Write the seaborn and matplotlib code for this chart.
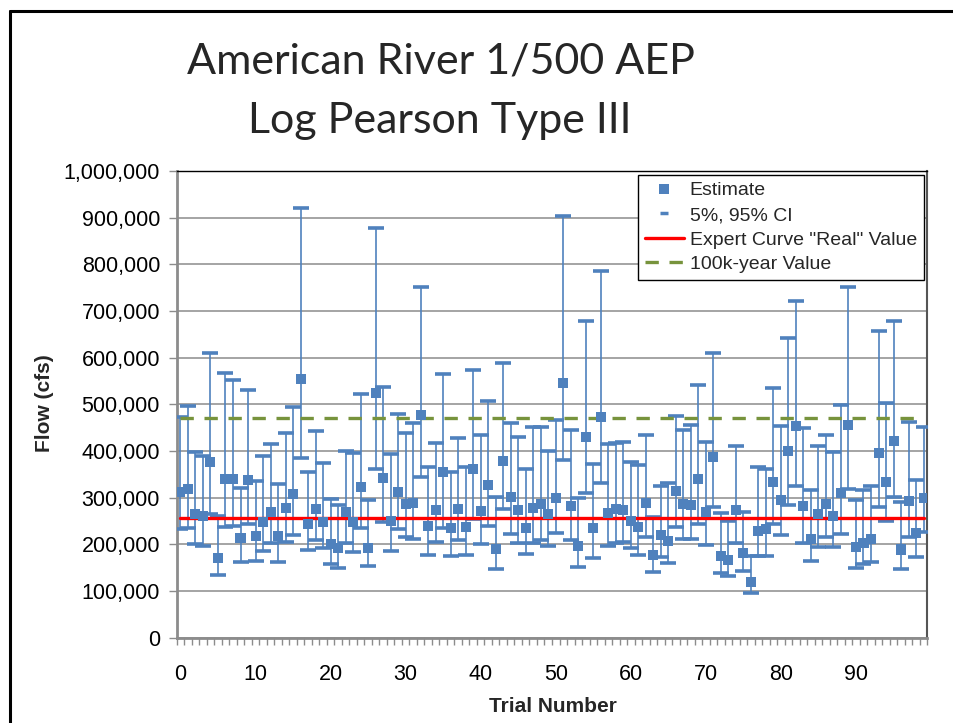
import numpy as np
import pandas as pd
import matplotlib
matplotlib.use("Agg")
import matplotlib.pyplot as plt
import seaborn as sns
from matplotlib.lines import Line2D
from matplotlib.ticker import FuncFormatter, MultipleLocator, FixedLocator

# ---------------- data (thousands of cfs) ----------------
trials = list(range(100))
estimate_k = [312, 319, 266, 260, 376, 170, 339, 339, 214, 337,
              217, 248, 269, 217, 277, 307, 554, 243, 276, 248,
              200, 192, 269, 247, 323, 192, 525, 342, 249, 312,
              287, 289, 478, 239, 273, 354, 234, 275, 237, 361,
              271, 328, 191, 378, 302, 273, 234, 278, 287, 265,
              299, 546, 283, 196, 429, 234, 472, 267, 275, 273,
              251, 237, 289, 177, 221, 207, 315, 287, 284, 339,
              269, 388, 176, 166, 273, 181, 119, 228, 233, 333,
              294, 401, 453, 282, 212, 265, 287, 260, 309, 455,
              194, 203, 212, 396, 334, 422, 189, 293, 224, 299]
upper95_k = [473, 496, 398, 390, 609, 260, 567, 552, 321, 531,
             335, 390, 415, 330, 439, 494, 921, 354, 442, 374,
             297, 284, 400, 396, 522, 294, 877, 537, 393, 480,
             438, 461, 752, 365, 417, 564, 354, 428, 366, 574,
             434, 508, 301, 589, 460, 431, 362, 452, 452, 399,
             466, 904, 444, 299, 679, 373, 785, 415, 418, 420,
             376, 371, 435, 259, 324, 331, 476, 445, 456, 542,
             420, 609, 267, 249, 411, 269, 175, 365, 362, 535,
             453, 643, 722, 450, 317, 410, 435, 398, 498, 751,
             296, 317, 326, 657, 502, 679, 291, 463, 337, 452]
lower5_k = [232, 235, 200, 197, 266, 135, 237, 239, 163, 244,
            164, 186, 203, 163, 205, 221, 385, 187, 210, 192,
            158, 149, 202, 183, 234, 153, 362, 248, 185, 233,
            215, 212, 344, 178, 204, 234, 176, 210, 178, 255,
            200, 239, 147, 275, 223, 202, 180, 202, 209, 197,
            224, 381, 210, 152, 309, 170, 331, 197, 203, 205,
            192, 178, 216, 141, 172, 159, 237, 211, 211, 243,
            198, 280, 138, 133, 203, 143, 96, 175, 176, 243,
            220, 284, 324, 203, 165, 195, 216, 195, 223, 319,
            149, 158, 162, 281, 249, 301, 148, 215, 173, 226]
expert_value = 257000
year100k_value = 470000
x_tick_labels = ["0", "10", "20", "30", "40", "50", "60", "70", "80", "90"]

title_lines = ["American River 1/500 AEP", "Log Pearson Type III"]
legend_labels = ["Estimate", "5%, 95% CI", 'Expert Curve "Real" Value', "100k-year Value"]

est = np.array(estimate_k) * 1000.0
hi = np.array(upper95_k) * 1000.0
lo = np.array(lower5_k) * 1000.0

df = pd.DataFrame({"trial": trials, "estimate": est, "lo": lo, "hi": hi,
                   "expert": [expert_value] * len(trials),
                   "k100": [year100k_value] * len(trials)})

# ---------------- style ----------------
sns.set_theme(style="white")
plt.rcParams['font.family'] = ['Liberation Sans', 'DejaVu Sans']

BLUE = "#4F81BD"
RED = "#FF0000"
GREEN = "#77933C"
GRID = "#8C8C8C"

W, H = 954, 723
fig = plt.figure(figsize=(W / 100, H / 100), dpi=100)
fig.patch.set_facecolor("white")
ax = fig.add_axes([176.7 / W, 1 - 637.7 / H, (927.3 - 176.7) / W, (637.7 - 171) / H])

# error bars
ax.errorbar(df["trial"], df["estimate"],
            yerr=[df["estimate"] - df["lo"], df["hi"] - df["estimate"]],
            fmt="none", ecolor=BLUE, elinewidth=1.2, capsize=5.8, capthick=2.6, zorder=3)

# reference lines
sns.lineplot(data=df, x="trial", y="expert", color=RED, linewidth=2.4, ax=ax,
             legend=False, zorder=4)
sns.lineplot(data=df, x="trial", y="k100", color=GREEN, linewidth=2.4, ax=ax,
             legend=False, zorder=4, dashes=False)
ax.lines[-1].set_dashes((4, 3.2))

# estimates
sns.scatterplot(data=df, x="trial", y="estimate", marker="s", s=52, color=BLUE,
                edgecolor="none", linewidth=0, ax=ax, zorder=5, legend=False)

# axes
ax.set_xlim(-0.5, 99.5)
ax.set_ylim(0, 1000000)
ax.yaxis.set_major_locator(MultipleLocator(100000))
ax.yaxis.set_major_formatter(FuncFormatter(lambda v, p: f"{int(round(v)):,}"))
ax.xaxis.set_major_locator(FixedLocator([int(t) for t in x_tick_labels]))
ax.set_xticklabels(x_tick_labels)
ax.xaxis.set_minor_locator(FixedLocator(np.arange(-0.5, 100, 1.0)))
ax.tick_params(axis="x", which="major", length=0, pad=19, labelsize=15.5, colors="black")
ax.tick_params(axis="x", which="minor", length=5, width=1, color=GRID, direction="out", bottom=True)
ax.tick_params(axis="y", which="major", length=6, width=1, color=GRID, direction="out",
               left=True, pad=6, labelsize=15.5, colors="black")
ax.grid(axis="y", color=GRID, linewidth=1.1)
ax.grid(axis="x", visible=False)
ax.set_axisbelow(True)

for side in ["left", "bottom"]:
    ax.spines[side].set_color(GRID)
    ax.spines[side].set_linewidth(2)
ax.spines["top"].set_color("black")
ax.spines["top"].set_linewidth(1)
ax.spines["right"].set_color("#555555")
ax.spines["right"].set_linewidth(1.5)

ax.set_xlabel("")
ax.set_ylabel("")
fig.text(553 / W, 1 - 706 / H, "Trial Number", ha="center", va="center",
         fontsize=15, fontweight="bold")
fig.text(45 / W, 1 - 403 / H, "Flow (cfs)", ha="center", va="center",
         fontsize=15, fontweight="bold", rotation=90)

# title
fig.text(441 / W, 1 - 62 / H, title_lines[0], ha="center", va="center",
         fontsize=31, family=["Lato", "DejaVu Sans"])
fig.text(440 / W, 1 - 121 / H, title_lines[1], ha="center", va="center",
         fontsize=31, family=["Lato", "DejaVu Sans"])

# legend
handles = [
    Line2D([], [], linestyle="none", marker="s", markersize=6.5, color=BLUE, markeredgewidth=0),
    Line2D([], [], linestyle="none", marker="_", markersize=6, color=BLUE, markeredgewidth=2.5),
    Line2D([], [], color=RED, linewidth=2.4),
    Line2D([], [], color=GREEN, linewidth=2.4, dashes=(4, 3.2)),
]
leg = ax.legend(handles, legend_labels, loc="upper left",
                bbox_to_anchor=(638 / W, 1 - 175 / H), bbox_transform=fig.transFigure,
                frameon=True, fancybox=False, edgecolor="black", framealpha=1,
                fontsize=14, handlelength=2.0, handletextpad=0.3,
                labelspacing=0.36, borderpad=0.35, borderaxespad=0)
leg.get_frame().set_linewidth(1.0)

# figure frame (top and left visible)
fig.add_artist(Line2D([10.5 / W, 1.0], [1 - 10.5 / H, 1 - 10.5 / H],
                      transform=fig.transFigure, color="black", linewidth=2.2))
fig.add_artist(Line2D([10.5 / W, 10.5 / W], [0, 1 - 10.5 / H],
                      transform=fig.transFigure, color="black", linewidth=2.2))

fig.savefig("out.png", dpi=100, facecolor="white")
